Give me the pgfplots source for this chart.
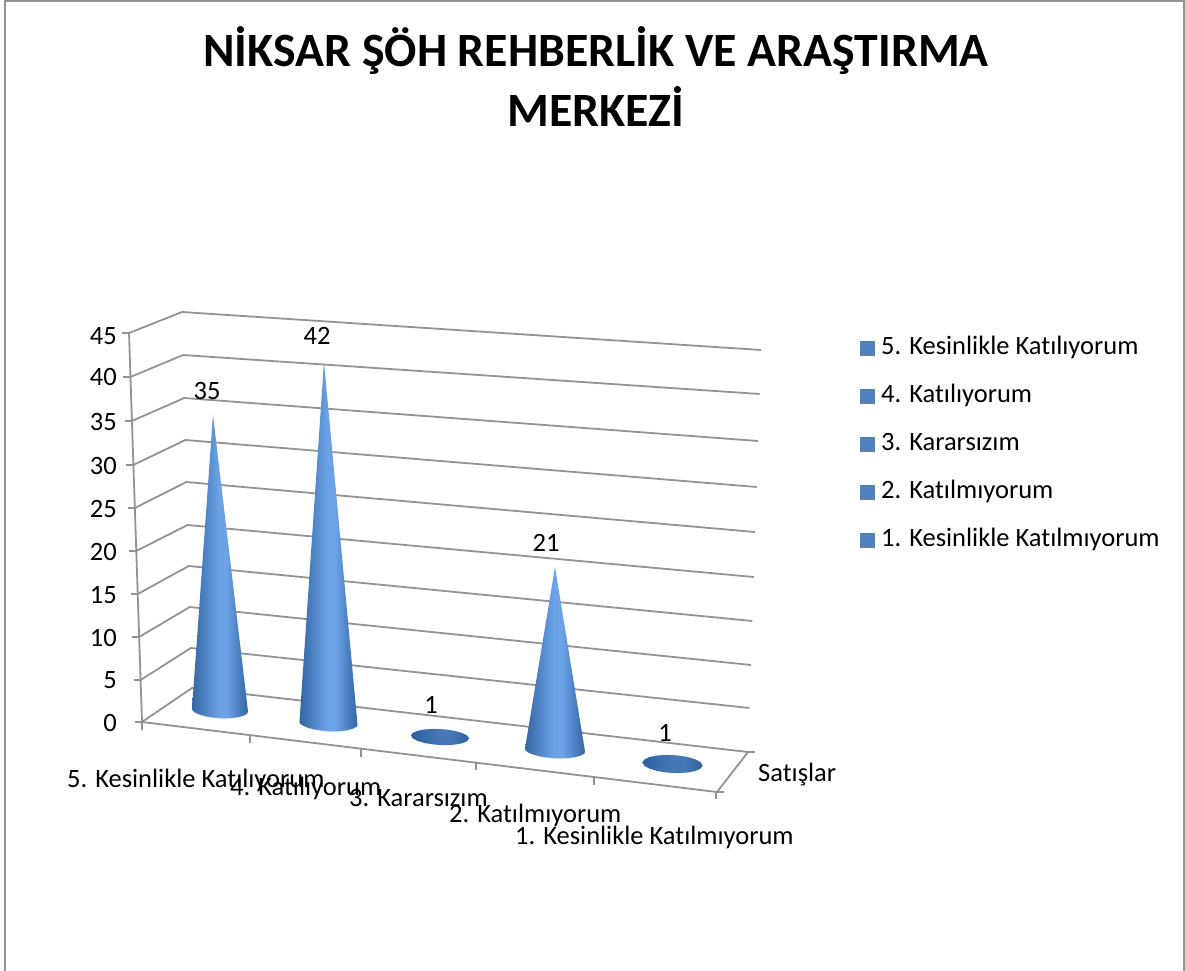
\documentclass[border=0pt]{standalone}
\usepackage{pgfplots}
\pgfplotsset{compat=1.18}
\usepackage{fontspec}
\setmainfont[Ligatures=NoCommon]{Carlito}
\definecolor{sqblue}{HTML}{4F81BD}
\definecolor{gridgray}{HTML}{939393}
\definecolor{coneD}{HTML}{34669F}
\definecolor{coneM}{HTML}{4F84C6}
\definecolor{coneL}{HTML}{6CA3E6}
\definecolor{discD}{HTML}{2C609E}
\definecolor{discM}{HTML}{4578B5}
\pgfdeclarehorizontalshading{coneshade}{100bp}{color(0bp)=(coneD); color(25bp)=(coneD); color(37bp)=(coneM); color(49bp)=(coneL); color(56bp)=(coneL); color(65bp)=(coneM); color(75bp)=(coneD); color(100bp)=(coneD)}
\pgfdeclarehorizontalshading{discshade}{100bp}{color(0bp)=(discD); color(25bp)=(discD); color(50bp)=(discM); color(60bp)=(discM); color(75bp)=(discD); color(100bp)=(discD)}
\newcommand\fs{\fontsize{26.5}{26.5}\selectfont}
% one point of a base ellipse: cx cy rx ry angle
\newcommand\bp[5]{(\fpeval{#1+#3*cosd(#5)},\fpeval{#2+#4*sind(#5)+0.05*#3*cosd(#5)}) }
\newcommand\arc[4]{\bp{#1}{#2}{#3}{#4}{180}\bp{#1}{#2}{#3}{#4}{165}\bp{#1}{#2}{#3}{#4}{150}\bp{#1}{#2}{#3}{#4}{135}\bp{#1}{#2}{#3}{#4}{120}\bp{#1}{#2}{#3}{#4}{105}\bp{#1}{#2}{#3}{#4}{90}\bp{#1}{#2}{#3}{#4}{75}\bp{#1}{#2}{#3}{#4}{60}\bp{#1}{#2}{#3}{#4}{45}\bp{#1}{#2}{#3}{#4}{30}\bp{#1}{#2}{#3}{#4}{15}\bp{#1}{#2}{#3}{#4}{0}}
% \cone{cx}{cy}{tipx}{px per unit}{value}{rx}{ry}
\newcommand\cone[7]{%
  \edef\tmp{\noexpand\addplot[draw=coneL!55!white,line width=1pt] coordinates {\arc{#1}{#2}{#6}{#7}};}\tmp
  \edef\tmp{\noexpand\addplot[draw=none,shade,shading=coneshade] coordinates {
    (#3,\fpeval{#2-#4*#5})
    \arc{#1}{#2}{#6}{#7}
    (#3,\fpeval{#2-#4*#5}) };}\tmp}
\newcommand\disc[4]{%
  \edef\tmp{\noexpand\addplot[draw=none,shade,shading=discshade] coordinates {
    \bp{#1}{#2}{#3}{#4}{0}\bp{#1}{#2}{#3}{#4}{20}\bp{#1}{#2}{#3}{#4}{40}\bp{#1}{#2}{#3}{#4}{60}\bp{#1}{#2}{#3}{#4}{80}\bp{#1}{#2}{#3}{#4}{100}\bp{#1}{#2}{#3}{#4}{120}\bp{#1}{#2}{#3}{#4}{140}\bp{#1}{#2}{#3}{#4}{160}\bp{#1}{#2}{#3}{#4}{180}\bp{#1}{#2}{#3}{#4}{200}\bp{#1}{#2}{#3}{#4}{220}\bp{#1}{#2}{#3}{#4}{240}\bp{#1}{#2}{#3}{#4}{260}\bp{#1}{#2}{#3}{#4}{280}\bp{#1}{#2}{#3}{#4}{300}\bp{#1}{#2}{#3}{#4}{320}\bp{#1}{#2}{#3}{#4}{340}\bp{#1}{#2}{#3}{#4}{360} };}\tmp}
\begin{document}
\begin{tikzpicture}
\path[use as bounding box] (0,0) rectangle (1185pt,971pt);
\begin{axis}[
  at={(0,0)},anchor=south west,
  scale only axis,width=1185pt,height=971pt,
  xmin=0,xmax=1185,ymin=0,ymax=971,y dir=reverse,
  hide axis,clip=false,
  legend style={at={(860/1185,1-337/971)},anchor=north west,draw=none,fill=none,inner sep=0pt,
    row sep=26pt,font=\fs,
    nodes={inner sep=0pt,text height=17pt,text depth=5pt,anchor=west}},
  legend cell align=left,
  legend image code/.code={\fill[sqblue] (5pt,-7.5pt) rectangle (20pt,7.5pt);\path (20pt,0pt) -- (26pt,0pt);},
  every axis plot/.append style={forget plot},
  grid/.style={draw=gridgray,line width=1.8pt,forget plot},
]
% frame
\addplot[draw=gridgray,line width=2pt] coordinates {(5,971)(5,1)(1184,1)(1184,971)};
% grid lines
\addplot[grid] coordinates {(129,333)(182,312)(761,350)};
\addplot[grid] coordinates {(130.4,377)(183.1,355)(759.6,394)};
\addplot[grid] coordinates {(131.9,421)(184.2,398)(758,441)};
\addplot[grid] coordinates {(133.3,465)(185.3,440)(756.7,487)};
\addplot[grid] coordinates {(134.8,508)(186.4,482)(755,532)};
\addplot[grid] coordinates {(136.2,551)(187.6,525)(753.8,577)};
\addplot[grid] coordinates {(137.7,594)(188.7,566)(752.3,621)};
\addplot[grid] coordinates {(139.1,637)(189.8,607)(751,665)};
\addplot[grid] coordinates {(140.6,680)(190.9,648)(749.4,708)};
\addplot[grid] coordinates {(142,722)(192,688)(748,752)};
% axes
\addplot[grid] coordinates {(129,333)(142,722)};
\addplot[grid] coordinates {(142,722)(717,792)(748,752)};
% ticks
\addplot[grid] coordinates {(122,333)(129,333)};
\addplot[grid] coordinates {(123.4,377)(130.4,377)};
\addplot[grid] coordinates {(124.9,421)(131.9,421)};
\addplot[grid] coordinates {(126.3,465)(133.3,465)};
\addplot[grid] coordinates {(127.8,508)(134.8,508)};
\addplot[grid] coordinates {(129.2,551)(136.2,551)};
\addplot[grid] coordinates {(130.7,594)(137.7,594)};
\addplot[grid] coordinates {(132.1,637)(139.1,637)};
\addplot[grid] coordinates {(133.6,680)(140.6,680)};
\addplot[grid] coordinates {(135,722)(142,722)};
\addplot[grid] coordinates {(142,722)(142,730)};
\addplot[grid] coordinates {(250,735)(250,743)};
\addplot[grid] coordinates {(361,748)(361,757)};
\addplot[grid] coordinates {(476,762)(476,770)};
\addplot[grid] coordinates {(594,777)(594,785)};
\addplot[grid] coordinates {(716,792)(716,799)};
\addplot[grid] coordinates {(717,792)(724,792)};
\addplot[grid] coordinates {(748,752)(755,752)};
% series
\cone{220}{710}{213}{8.43}{35}{28}{8}
\cone{328.5}{723}{324}{8.6}{42}{29}{8}
\disc{440}{737}{29}{8}
\cone{555}{750}{555}{8.71}{21}{30}{8}
\disc{672.5}{764}{30}{9}
% legend
\addplot[forget plot=false,draw=none] coordinates {(-50,-50)};\addlegendentry{5. Kesinlikle Katılıyorum}
\addplot[forget plot=false,draw=none] coordinates {(-50,-50)};\addlegendentry{4. Katılıyorum}
\addplot[forget plot=false,draw=none] coordinates {(-50,-50)};\addlegendentry{3. Kararsızım}
\addplot[forget plot=false,draw=none] coordinates {(-50,-50)};\addlegendentry{2. Katılmıyorum}
\addplot[forget plot=false,draw=none] coordinates {(-50,-50)};\addlegendentry{1. Kesinlikle Katılmıyorum}
% texts
\node[anchor=base,inner sep=0pt,font=\bfseries\fontsize{47.8}{47.8}\selectfont] at (axis cs:596,67) {NİKSAR ŞÖH REHBERLİK VE ARAŞTIRMA};
\node[anchor=base,inner sep=0pt,font=\bfseries\fontsize{47.8}{47.8}\selectfont] at (axis cs:596,126) {MERKEZİ};
\node[anchor=base east,inner sep=0pt,font=\fs] at (axis cs:117,344) {45};
\node[anchor=base east,inner sep=0pt,font=\fs] at (axis cs:117,385) {40};
\node[anchor=base east,inner sep=0pt,font=\fs] at (axis cs:117,430) {35};
\node[anchor=base east,inner sep=0pt,font=\fs] at (axis cs:117,474) {30};
\node[anchor=base east,inner sep=0pt,font=\fs] at (axis cs:117,517) {25};
\node[anchor=base east,inner sep=0pt,font=\fs] at (axis cs:117,560) {20};
\node[anchor=base east,inner sep=0pt,font=\fs] at (axis cs:117,603) {15};
\node[anchor=base east,inner sep=0pt,font=\fs] at (axis cs:117,646) {10};
\node[anchor=base east,inner sep=0pt,font=\fs] at (axis cs:117,688) {5};
\node[anchor=base east,inner sep=0pt,font=\fs] at (axis cs:117,731) {0};
\node[anchor=base,inner sep=0pt,font=\fs] at (axis cs:207,399) {35};
\node[anchor=base,inner sep=0pt,font=\fs] at (axis cs:317,344) {42};
\node[anchor=base,inner sep=0pt,font=\fs] at (axis cs:431,713) {1};
\node[anchor=base,inner sep=0pt,font=\fs] at (axis cs:546,551) {21};
\node[anchor=base,inner sep=0pt,font=\fs] at (axis cs:665,741) {1};
\node[anchor=base west,inner sep=0pt,font=\fs] at (axis cs:67,787) {5. Kesinlikle Katılıyorum};
\node[anchor=base west,inner sep=0pt,font=\fs] at (axis cs:230,795) {4. Katılıyorum};
\node[anchor=base west,inner sep=0pt,font=\fs] at (axis cs:349,806) {3. Kararsızım};
\node[anchor=base west,inner sep=0pt,font=\fs] at (axis cs:449,822) {2. Katılmıyorum};
\node[anchor=base west,inner sep=0pt,font=\fs] at (axis cs:515,844) {1. Kesinlikle Katılmıyorum};
\node[anchor=base west,inner sep=0pt,font=\fs] at (axis cs:758,781) {Satışlar};
\end{axis}
\end{tikzpicture}
\end{document}
